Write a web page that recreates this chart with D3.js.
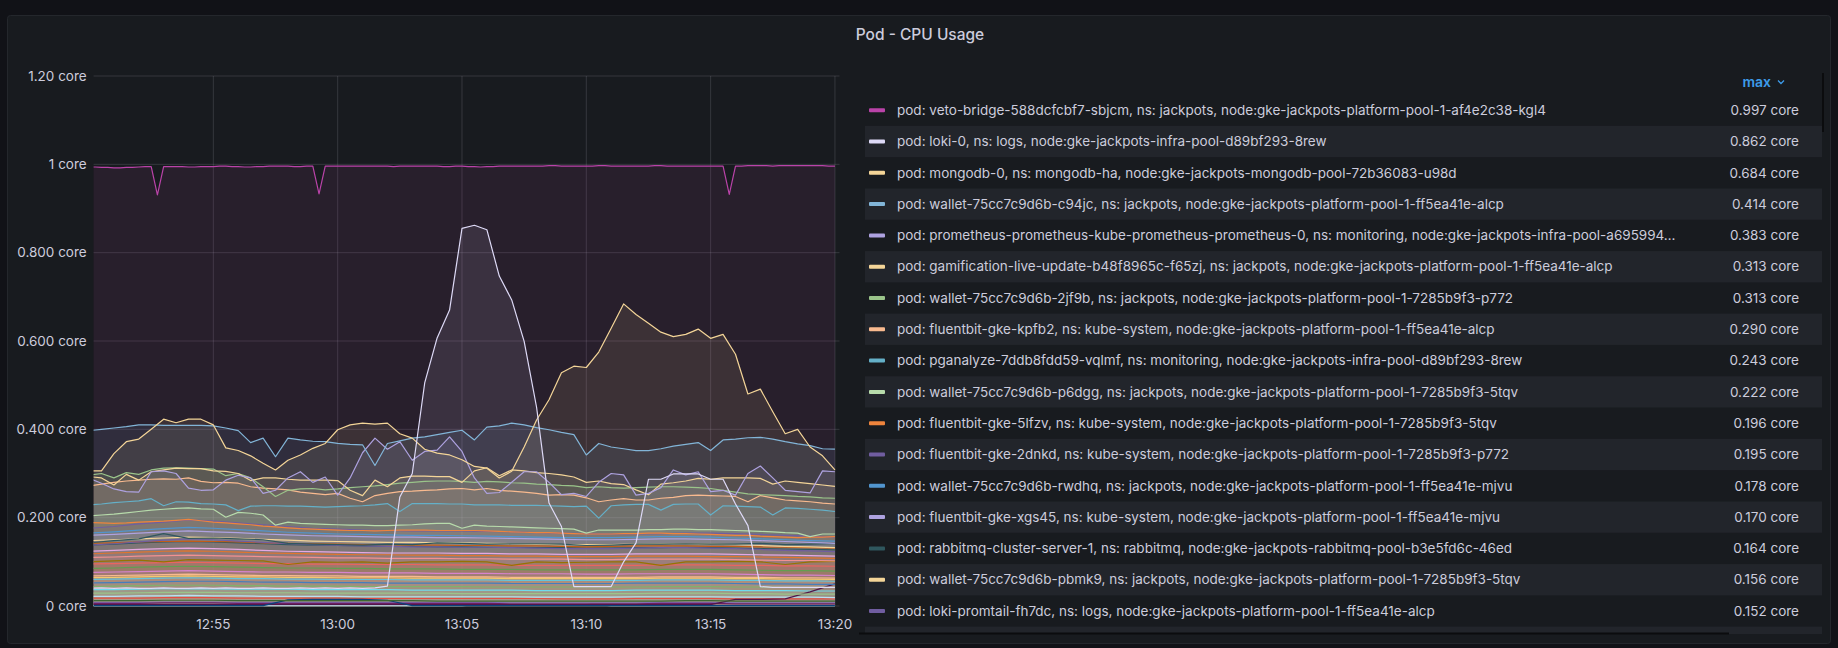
<!DOCTYPE html>
<html>
<head>
<meta charset="utf-8">
<script src="https://cdn.jsdelivr.net/npm/d3@7"></script>
<style>
  body { margin: 0; background: #111217; font-family: Inter, "Noto Sans", sans-serif; }
  svg { display: block; }
</style>
</head>
<body>
<div id="vis"></div>
<script>
// time range of the panel (last 30 min) and of the scraped data
var rangeStart = new Date(2024, 0, 1, 12, 50, 11),
    rangeEnd   = new Date(2024, 0, 1, 13, 20, 11),
    dataStart  = new Date(2024, 0, 1, 12, 50, 0),
    dataEnd    = new Date(2024, 0, 1, 13, 20, 0);

var yTickValues = [0, 0.2, 0.4, 0.6, 0.8, 1, 1.2];
var yTickLabels = ["0 core", "0.200 core", "0.400 core", "0.600 core", "0.800 core", "1 core", "1.20 core"];

////////// series values (core), 15s, 30s or 60s resolution //////////

var vetoBridge = [0.994,0.994,0.993,0.993,0.992,0.992,0.993,0.993,0.994,0.995,
  0.995,0.931,0.995,0.995,0.995,0.995,0.994,0.994,0.995,0.995,
  0.995,0.996,0.996,0.995,0.995,0.994,0.994,0.995,0.995,0.996,
  0.996,0.996,0.996,0.995,0.995,0.996,0.996,0.933,0.996,0.996,
  0.996,0.996,0.996,0.996,0.996,0.996,0.996,0.996,0.996,0.995,
  0.996,0.996,0.996,0.996,0.996,0.996,0.996,0.995,0.995,0.996,
  0.996,0.995,0.995,0.994,0.995,0.995,0.996,0.996,0.996,0.996,
  0.996,0.996,0.996,0.996,0.997,0.997,0.996,0.996,0.996,0.996,
  0.996,0.996,0.997,0.997,0.996,0.996,0.996,0.996,0.996,0.996,
  0.996,0.997,0.997,0.996,0.996,0.996,0.996,0.996,0.996,0.996,
  0.996,0.996,0.996,0.932,0.996,0.996,0.997,0.997,0.997,0.997,
  0.996,0.997,0.997,0.997,0.997,0.997,0.997,0.997,0.997,0.996,
  0.996];

var loki0 = [0.040,0.041,0.040,0.041,0.040,0.040,0.041,0.040,0.040,0.041,
  0.040,0.041,0.040,0.040,0.041,0.040,0.040,0.041,0.040,0.041,
  0.040,0.041,0.040,0.041,0.045,0.247,0.300,0.505,0.607,0.670,
  0.855,0.862,0.852,0.747,0.693,0.599,0.450,0.233,0.180,0.044,
  0.044,0.044,0.044,0.100,0.143,0.287,0.287,0.299,0.299,0.299,
  0.287,0.287,0.231,0.182,0.044,0.042,0.042,0.042,0.042,0.042,0.042];

var mongodb0 = [0.306,0.306,0.345,0.372,0.378,0.400,0.423,0.415,0.423,0.423,
  0.410,0.358,0.352,0.340,0.323,0.308,0.330,0.342,0.357,0.368,
  0.399,0.410,0.414,0.412,0.414,0.390,0.380,0.355,0.346,0.342,
  0.331,0.316,0.312,0.290,0.305,0.360,0.421,0.467,0.528,0.543,
  0.540,0.575,0.629,0.684,0.660,0.640,0.620,0.610,0.615,0.627,
  0.606,0.615,0.570,0.480,0.491,0.440,0.390,0.400,0.360,0.340,0.308];

var walletC94jc = [0.397,0.400,0.403,0.406,0.410,0.410,0.409,0.409,0.409,0.409,
  0.408,0.403,0.397,0.370,0.380,0.338,0.380,0.376,0.373,0.372,
  0.368,0.366,0.365,0.318,0.368,0.374,0.380,0.383,0.388,0.393,
  0.398,0.376,0.405,0.408,0.414,0.410,0.404,0.399,0.393,0.388,
  0.342,0.368,0.360,0.356,0.352,0.352,0.356,0.362,0.366,0.370,
  0.352,0.376,0.378,0.381,0.382,0.378,0.372,0.367,0.363,0.356,0.355];

var prometheus0 = [0.289,0.278,0.265,0.259,0.258,0.304,0.306,0.300,0.267,0.262,
  0.263,0.285,0.296,0.290,0.255,0.262,0.290,0.304,0.280,0.292,
  0.251,0.290,0.347,0.380,0.355,0.372,0.330,0.350,0.353,0.383,
  0.350,0.290,0.255,0.257,0.280,0.304,0.304,0.280,0.252,0.255,
  0.248,0.280,0.300,0.297,0.251,0.255,0.268,0.308,0.297,0.304,
  0.259,0.262,0.251,0.300,0.317,0.290,0.262,0.259,0.256,0.306,0.304];

var gamification = [0.293,0.290,0.274,0.298,0.285,0.304,0.308,0.312,0.311,0.311,
  0.306,0.305,0.300,0.284,0.290,0.290,0.287,0.285,0.285,0.285,
  0.284,0.262,0.250,0.285,0.270,0.290,0.294,0.294,0.293,0.293,
  0.280,0.306,0.313,0.295,0.308,0.306,0.302,0.300,0.297,0.292,
  0.280,0.283,0.277,0.275,0.263,0.252,0.276,0.279,0.283,0.289,
  0.287,0.290,0.290,0.290,0.289,0.276,0.283,0.280,0.277,0.274,0.271];

var wallet2jf9b = [0.296,0.300,0.290,0.302,0.298,0.308,0.312,0.313,0.312,0.311,
  0.310,0.295,0.300,0.290,0.270,0.248,0.262,0.265,0.266,0.263,
  0.265,0.268,0.270,0.272,0.275,0.278,0.280,0.282,0.283,0.283,
  0.282,0.280,0.282,0.281,0.279,0.278,0.276,0.275,0.273,0.272,
  0.268,0.270,0.268,0.267,0.268,0.269,0.270,0.270,0.269,0.268,
  0.266,0.262,0.258,0.254,0.252,0.251,0.250,0.248,0.247,0.245,0.244];

var fluentbitKpfb2 = [0.272,0.276,0.280,0.283,0.285,0.287,0.288,0.287,0.290,0.282,
  0.279,0.280,0.278,0.270,0.267,0.265,0.263,0.258,0.255,0.252,
  0.255,0.244,0.236,0.250,0.255,0.259,0.260,0.262,0.263,0.265,
  0.266,0.263,0.266,0.262,0.260,0.258,0.255,0.251,0.252,0.251,
  0.245,0.236,0.240,0.243,0.240,0.240,0.244,0.246,0.250,0.251,
  0.250,0.249,0.248,0.236,0.250,0.245,0.240,0.238,0.236,0.233,0.231];

var pganalyze = [0.229,0.231,0.234,0.236,0.238,0.243,0.227,0.236,0.235,0.232,
  0.231,0.229,0.216,0.226,0.227,0.227,0.226,0.226,0.225,0.224,
  0.225,0.226,0.227,0.229,0.232,0.214,0.232,0.232,0.232,0.231,
  0.231,0.229,0.229,0.229,0.228,0.228,0.228,0.227,0.226,0.225,
  0.226,0.199,0.227,0.229,0.230,0.230,0.217,0.230,0.231,0.231,
  0.206,0.227,0.226,0.225,0.224,0.206,0.222,0.221,0.219,0.217,0.214];

var walletP6dgg = [0.204,0.206,0.208,0.211,0.214,0.217,0.219,0.221,0.222,0.220,
  0.219,0.201,0.212,0.210,0.206,0.183,0.190,0.187,0.186,0.185,
  0.184,0.183,0.183,0.182,0.182,0.183,0.184,0.186,0.187,0.187,
  0.176,0.183,0.181,0.180,0.179,0.178,0.177,0.176,0.175,0.174,
  0.165,0.172,0.172,0.172,0.172,0.173,0.173,0.174,0.174,0.173,
  0.173,0.172,0.171,0.170,0.169,0.168,0.166,0.165,0.157,0.163,0.163];

var fluentbit5lfzv = [0.189,0.188,0.187,0.188,0.190,0.191,0.192,0.194,0.196,0.193,
  0.190,0.188,0.186,0.184,0.181,0.179,0.177,0.175,0.174,0.173,
  0.172,0.171,0.171,0.170,0.171,0.172,0.172,0.172,0.171,0.171,
  0.171,0.171,0.170,0.169,0.168,0.167,0.166,0.166,0.165,0.164,
  0.163,0.163,0.163,0.164,0.164,0.165,0.165,0.164,0.164,0.163,
  0.162,0.161,0.160,0.160,0.158,0.157,0.156,0.155,0.156,0.156,0.157];

// 60s resolution
var fluentbit2dnkd = [0.176,0.180,0.186,0.190,0.195,0.192,0.188,0.184,0.180,0.176,
  0.174,0.172,0.171,0.170,0.170,0.170,0.169,0.168,0.166,0.165,
  0.164,0.163,0.163,0.164,0.165,0.165,0.164,0.162,0.160,0.158,0.156];
var walletRwdhq = [0.165,0.168,0.172,0.175,0.178,0.176,0.173,0.170,0.167,0.165,
  0.163,0.162,0.161,0.160,0.160,0.159,0.158,0.157,0.156,0.155,
  0.155,0.155,0.156,0.157,0.157,0.156,0.154,0.152,0.150,0.148,0.147];
var fluentbitXgs45 = [0.160,0.162,0.165,0.168,0.170,0.168,0.166,0.163,0.161,0.159,
  0.158,0.157,0.156,0.156,0.155,0.155,0.154,0.153,0.152,0.151,
  0.150,0.150,0.151,0.152,0.152,0.151,0.150,0.148,0.146,0.144,0.142];
var rabbitmqServer1 = [0.143,0.148,0.152,0.164,0.153,0.154,0.152,0.150,0.142,0.140,
  0.139,0.138,0.140,0.139,0.143,0.142,0.140,0.141,0.141,0.140,
  0.137,0.138,0.140,0.140,0.141,0.140,0.140,0.142,0.139,0.140,0.142];
var walletPbmk9 = [0.148,0.150,0.152,0.154,0.156,0.155,0.153,0.151,0.149,0.147,
  0.146,0.145,0.144,0.144,0.143,0.143,0.142,0.141,0.140,0.139,
  0.139,0.139,0.140,0.141,0.141,0.140,0.139,0.137,0.135,0.134,0.132];
var lokiPromtail = [0.138,0.141,0.145,0.149,0.152,0.150,0.147,0.144,0.141,0.139,
  0.137,0.136,0.135,0.134,0.134,0.133,0.133,0.132,0.131,0.130,
  0.130,0.130,0.131,0.132,0.132,0.131,0.130,0.128,0.126,0.125,0.123];

// the rest of the pods (below the visible legend rows)
var other1 = [0.142,0.143,0.145,0.146,0.147,0.146,0.145,0.143,0.142,0.141,
  0.140,0.139,0.139,0.138,0.138,0.137,0.137,0.136,0.136,0.135,
  0.134,0.135,0.136,0.136,0.136,0.135,0.135,0.134,0.133,0.132,0.131];
var other2 = [0.138,0.140,0.143,0.145,0.146,0.145,0.143,0.141,0.139,0.138,
  0.137,0.136,0.135,0.135,0.134,0.134,0.133,0.133,0.132,0.132,
  0.131,0.131,0.132,0.132,0.133,0.132,0.131,0.130,0.129,0.128,0.127];
var other3 = [0.124,0.126,0.128,0.130,0.131,0.130,0.128,0.126,0.124,0.123,
  0.122,0.121,0.120,0.120,0.120,0.119,0.119,0.118,0.118,0.117,
  0.117,0.117,0.118,0.118,0.118,0.118,0.117,0.116,0.115,0.114,0.113];
var other4 = [0.118,0.120,0.122,0.124,0.125,0.124,0.122,0.120,0.119,0.118,
  0.117,0.116,0.116,0.115,0.115,0.114,0.114,0.113,0.113,0.112,
  0.112,0.112,0.113,0.113,0.113,0.112,0.112,0.111,0.110,0.109,0.108];
var other5 = [0.110,0.111,0.113,0.114,0.115,0.114,0.113,0.112,0.111,0.110,
  0.109,0.109,0.108,0.108,0.108,0.107,0.107,0.106,0.106,0.106,
  0.105,0.105,0.106,0.106,0.106,0.106,0.105,0.104,0.103,0.103,0.102];
var other6 = [0.100,0.102,0.104,0.100,0.105,0.104,0.103,0.102,0.094,0.100,
  0.099,0.100,0.097,0.100,0.100,0.101,0.100,0.092,0.100,0.098,
  0.099,0.100,0.100,0.092,0.100,0.100,0.101,0.100,0.094,0.100,0.101];
var other7 = [0.095,0.096,0.097,0.098,0.099,0.098,0.097,0.096,0.096,0.095,
  0.095,0.094,0.094,0.094,0.093,0.093,0.093,0.092,0.092,0.092,
  0.092,0.092,0.092,0.093,0.093,0.093,0.092,0.092,0.091,0.091,0.090];
var other8 = [0.085,0.086,0.088,0.089,0.090,0.089,0.088,0.087,0.086,0.086,
  0.085,0.085,0.084,0.084,0.084,0.083,0.083,0.083,0.082,0.082,
  0.082,0.082,0.082,0.083,0.083,0.083,0.082,0.081,0.080,0.080,0.079];
var other9 = [0.076,0.077,0.078,0.079,0.080,0.079,0.078,0.077,0.077,0.076,
  0.076,0.075,0.075,0.075,0.074,0.074,0.074,0.073,0.073,0.073,
  0.072,0.072,0.073,0.073,0.073,0.073,0.072,0.071,0.070,0.070,0.069];
var other10 = [0.060,0.061,0.062,0.063,0.064,0.063,0.062,0.062,0.061,0.061,
  0.060,0.060,0.060,0.059,0.059,0.059,0.059,0.058,0.058,0.058,
  0.058,0.058,0.058,0.059,0.059,0.059,0.058,0.058,0.057,0.057,0.056];
var other11 = [0.052,0.053,0.054,0.055,0.056,0.056,0.055,0.054,0.054,0.053,
  0.053,0.053,0.052,0.052,0.052,0.052,0.052,0.051,0.051,0.051,
  0.051,0.051,0.052,0.052,0.052,0.052,0.051,0.050,0.050,0.049,0.049];
var other12 = [0.044,0.045,0.046,0.047,0.047,0.047,0.046,0.046,0.045,0.045,
  0.045,0.044,0.044,0.044,0.044,0.044,0.043,0.043,0.043,0.043,
  0.043,0.043,0.043,0.044,0.044,0.044,0.043,0.043,0.042,0.042,0.042];
var other13 = [0.029,0.029,0.030,0.031,0.031,0.031,0.030,0.030,0.030,0.029,
  0.029,0.029,0.029,0.029,0.029,0.028,0.028,0.028,0.028,0.028,
  0.028,0.028,0.028,0.029,0.029,0.029,0.028,0.028,0.027,0.027,0.027];
var other14 = [0.012,0.012,0.012,0.013,0.013,0.013,0.012,0.012,0.012,0.012,
  0.012,0.012,0.012,0.012,0.011,0.011,0.011,0.011,0.011,0.011,
  0.011,0.011,0.011,0.011,0.012,0.012,0.011,0.011,0.011,0.011,0.011];
var other15 = [0.001,0.001,0.001,0.001,0.001,0.001,0.001,0.001,0.014,0.015,
  0.015,0.015,0.013,0.001,0.001,0.001,0.001,0.001,0.001,0.001,
  0.001,0.001,0.001,0.001,0.001,0.001,0.001,0.001,0.001,0.001,0.001];
var other16 = [0.003,0.003,0.003,0.003,0.003,0.003,0.003,0.003,0.003,0.003,
  0.003,0.003,0.003,0.003,0.003,0.003,0.003,0.003,0.003,0.003,
  0.003,0.003,0.003,0.003,0.003,0.003,0.015,0.015,0.016,0.032,0.050];
var other17 = [0.006,0.006,0.006,0.007,0.007,0.007,0.006,0.006,0.006,0.006,
  0.006,0.006,0.006,0.006,0.006,0.006,0.006,0.005,0.005,0.005,
  0.005,0.005,0.005,0.006,0.006,0.006,0.005,0.005,0.005,0.005,0.005];
var other18 = [0.001,0.001,0.001,0.001,0.001,0.001,0.001,0.001,0.001,0.001,
  0.001,0.001,0.001,0.001,0.001,0.001,0.004,0.004,0.004,0.004,
  0.004,0.001,0.001,0.001,0.001,0.001,0.001,0.001,0.001,0.001,0.001];
var other19 = [0.001,0.001,0.001,0.001,0.001,0.001,0.001,0.001,0.001,0.001,
  0.001,0.001,0.001,0.001,0.001,0.001,0.001,0.001,0.001,0.001,
  0.001,0.001,0.001,0.001,0.001,0.001,0.001,0.001,0.001,0.001,0.001];
var other20 = [0.068,0.069,0.070,0.071,0.072,0.071,0.070,0.069,0.069,0.068,
  0.068,0.067,0.067,0.067,0.066,0.066,0.066,0.065,0.065,0.065,
  0.065,0.065,0.065,0.066,0.066,0.066,0.065,0.065,0.064,0.064,0.063];
var other21 = [0.037,0.037,0.038,0.039,0.039,0.039,0.038,0.038,0.038,0.037,
  0.037,0.037,0.037,0.036,0.036,0.036,0.036,0.036,0.035,0.035,
  0.035,0.035,0.036,0.036,0.036,0.036,0.035,0.035,0.035,0.034,0.034];
var other22 = [0.022,0.022,0.023,0.023,0.024,0.023,0.023,0.022,0.022,0.022,
  0.022,0.021,0.021,0.021,0.021,0.021,0.021,0.021,0.020,0.020,
  0.020,0.020,0.021,0.021,0.021,0.021,0.020,0.020,0.020,0.020,0.019];
var other23 = [0.018,0.018,0.018,0.019,0.019,0.019,0.018,0.018,0.018,0.018,
  0.018,0.017,0.017,0.017,0.017,0.017,0.017,0.017,0.017,0.016,
  0.016,0.016,0.017,0.017,0.017,0.017,0.016,0.016,0.016,0.016,0.016];
var other24 = [0.008,0.008,0.008,0.009,0.009,0.009,0.008,0.008,0.008,0.008,
  0.008,0.008,0.008,0.008,0.008,0.008,0.008,0.007,0.007,0.007,
  0.007,0.007,0.007,0.008,0.008,0.008,0.007,0.007,0.007,0.007,0.007];
var other25 = [0.064,0.065,0.066,0.067,0.068,0.067,0.066,0.066,0.065,0.065,
  0.064,0.064,0.064,0.063,0.063,0.063,0.063,0.062,0.062,0.062,
  0.062,0.062,0.062,0.063,0.063,0.063,0.062,0.062,0.061,0.061,0.060];

var seriesLabels = [
  "pod: veto-bridge-588dcfcbf7-sbjcm, ns: jackpots, node:gke-jackpots-platform-pool-1-af4e2c38-kgl4",
  "pod: loki-0, ns: logs, node:gke-jackpots-infra-pool-d89bf293-8rew",
  "pod: mongodb-0, ns: mongodb-ha, node:gke-jackpots-mongodb-pool-72b36083-u98d",
  "pod: wallet-75cc7c9d6b-c94jc, ns: jackpots, node:gke-jackpots-platform-pool-1-ff5ea41e-alcp",
  "pod: prometheus-prometheus-kube-prometheus-prometheus-0, ns: monitoring, node:gke-jackpots-infra-pool-a695994\u2026",
  "pod: gamification-live-update-b48f8965c-f65zj, ns: jackpots, node:gke-jackpots-platform-pool-1-ff5ea41e-alcp",
  "pod: wallet-75cc7c9d6b-2jf9b, ns: jackpots, node:gke-jackpots-platform-pool-1-7285b9f3-p772",
  "pod: fluentbit-gke-kpfb2, ns: kube-system, node:gke-jackpots-platform-pool-1-ff5ea41e-alcp",
  "pod: pganalyze-7ddb8fdd59-vqlmf, ns: monitoring, node:gke-jackpots-infra-pool-d89bf293-8rew",
  "pod: wallet-75cc7c9d6b-p6dgg, ns: jackpots, node:gke-jackpots-platform-pool-1-7285b9f3-5tqv",
  "pod: fluentbit-gke-5lfzv, ns: kube-system, node:gke-jackpots-platform-pool-1-7285b9f3-5tqv",
  "pod: fluentbit-gke-2dnkd, ns: kube-system, node:gke-jackpots-platform-pool-1-7285b9f3-p772",
  "pod: wallet-75cc7c9d6b-rwdhq, ns: jackpots, node:gke-jackpots-platform-pool-1-ff5ea41e-mjvu",
  "pod: fluentbit-gke-xgs45, ns: kube-system, node:gke-jackpots-platform-pool-1-ff5ea41e-mjvu",
  "pod: rabbitmq-cluster-server-1, ns: rabbitmq, node:gke-jackpots-rabbitmq-pool-b3e5fd6c-46ed",
  "pod: wallet-75cc7c9d6b-pbmk9, ns: jackpots, node:gke-jackpots-platform-pool-1-7285b9f3-5tqv",
  "pod: loki-promtail-fh7dc, ns: logs, node:gke-jackpots-platform-pool-1-ff5ea41e-alcp"
];

var seriesColors = ["#BA43A9", "#DEDAF7", "#F4D598", "#82B5D8", "#AEA2E0", "#F4D598", "#9AC48A",
  "#F9BA8F", "#64B0C8", "#B7DBAB", "#EF843C", "#705DA0", "#5195CE", "#AEA2E0", "#2F575E",
  "#F4D598", "#705DA0",
  "#C15C17", "#2F575E", "#E5A8E2", "#E0752D", "#F29191", "#967302", "#EA6460", "#629E51",
  "#D683CE", "#65C5DB", "#447EBC", "#7EB26D", "#9AC48A", "#3F6833", "#0A437C", "#511749",
  "#6D1F62", "#CFFAFF", "#FCEACA",
  "#F9BA8F", "#70DBED", "#BADFF4", "#E24D42", "#806EB7", "#F2C96D"];

var seriesValues = [vetoBridge, loki0, mongodb0, walletC94jc, prometheus0, gamification, wallet2jf9b,
  fluentbitKpfb2, pganalyze, walletP6dgg, fluentbit5lfzv, fluentbit2dnkd, walletRwdhq, fluentbitXgs45,
  rabbitmqServer1, walletPbmk9, lokiPromtail,
  other1, other2, other3, other4, other5, other6, other7, other8, other9, other10, other11,
  other12, other13, other14, other15, other16, other17, other18, other19,
  other20, other21, other22, other23, other24, other25];

var series = seriesValues.map(function(vals, k) {
  var step = (dataEnd - dataStart) / (vals.length - 1);
  return {
    label: seriesLabels[k] || "",
    color: seriesColors[k],
    points: vals.map(function(v, i) { return {t: new Date(+dataStart + i * step), v: v}; }),
    max: d3.max(vals)
  };
});

////////// layout //////////

var W = 1838, H = 648;
var plot = {left: 93.6, right: 839.5, top: 76, bottom: 606};

var svg = d3.select("#vis")
    .append("svg")
    .attr("width", W)
    .attr("height", H)
    .style("font-family", "Inter, 'Noto Sans', sans-serif");

svg.append("rect")
    .attr("x", 7.5).attr("y", 15.5)
    .attr("width", 1823).attr("height", 628)
    .attr("rx", 3)
    .attr("fill", "#181b1f")
    .attr("stroke", "#24272c");

svg.append("text")
    .attr("x", 920).attr("y", 35)
    .attr("dy", "0.35em")
    .attr("text-anchor", "middle")
    .attr("fill", "#ccccdc")
    .attr("font-size", 15.5)
    .attr("font-weight", 500)
    .text("Pod - CPU Usage");

var x = d3.scaleTime()
    .domain([rangeStart, rangeEnd])
    .range([plot.left, plot.right]);

var y = d3.scaleLinear()
    .domain([0, 1.2])
    .range([plot.bottom, plot.top]);

////////// grid + axes //////////

var grid = svg.append("g").attr("class", "grid");

grid.selectAll("line.h")
    .data(yTickValues)
    .enter().append("line")
    .attr("class", "h")
    .attr("x1", plot.left).attr("x2", plot.right)
    .attr("y1", function(d) { return y(d); })
    .attr("y2", function(d) { return y(d); })
    .attr("stroke", "rgba(204,204,220,0.16)");

var xTicks = x.ticks(d3.timeMinute.every(5));

grid.selectAll("line.v")
    .data(xTicks)
    .enter().append("line")
    .attr("class", "v")
    .attr("x1", function(d) { return x(d); })
    .attr("x2", function(d) { return x(d); })
    .attr("y1", plot.top).attr("y2", plot.bottom)
    .attr("stroke", "rgba(204,204,220,0.16)");

svg.append("g")
  .selectAll("text")
    .data(yTickValues)
    .enter().append("text")
    .attr("x", 86.7)
    .attr("y", function(d) { return y(d); })
    .attr("dy", "0.35em")
    .attr("text-anchor", "end")
    .attr("fill", "#ccccdc")
    .attr("font-size", 13.5)
    .text(function(d, i) { return yTickLabels[i]; });

svg.append("g")
  .selectAll("text")
    .data(xTicks)
    .enter().append("text")
    .attr("x", function(d) { return x(d); })
    .attr("y", 624)
    .attr("dy", "0.35em")
    .attr("text-anchor", "middle")
    .attr("fill", "#ccccdc")
    .attr("font-size", 13.5)
    .text(d3.timeFormat("%H:%M"));

////////// series //////////

svg.append("clipPath").attr("id", "plotClip")
  .append("rect")
    .attr("x", plot.left).attr("y", plot.top - 2)
    .attr("width", plot.right - plot.left)
    .attr("height", plot.bottom - plot.top + 3);

var area = d3.area()
    .x(function(d) { return x(d.t); })
    .y0(y(0))
    .y1(function(d) { return y(d.v); });

var line = d3.line()
    .x(function(d) { return x(d.t); })
    .y(function(d) { return y(d.v); });

var seriesG = svg.append("g").attr("clip-path", "url(#plotClip)");

seriesG.selectAll("path.fill")
    .data(series)
    .enter().append("path")
    .attr("class", "fill")
    .attr("d", function(s) { return area(s.points); })
    .attr("fill", function(s) { return s.color; })
    .attr("fill-opacity", 0.1);

// lowest series first so the big ones end up on top
seriesG.selectAll("path.line")
    .data(series.slice().reverse())
    .enter().append("path")
    .attr("class", "line")
    .attr("d", function(s) { return line(s.points); })
    .attr("fill", "none")
    .attr("stroke", function(s) { return s.color; })
    .attr("stroke-width", 1.2)
    .attr("stroke-linejoin", "round");

////////// legend //////////

var fmt = d3.format(".3f");
var sorted = series.slice().sort(function(a, b) { return b.max - a.max; });

svg.append("text")
    .attr("x", 1771).attr("y", 82.5)
    .attr("dy", "0.35em")
    .attr("text-anchor", "end")
    .attr("fill", "#3d9be9")
    .attr("font-size", 14)
    .attr("font-weight", 600)
    .text("max");

svg.append("path")
    .attr("d", "M1778,80.5 L1781,83.5 L1784,80.5")
    .attr("fill", "none")
    .attr("stroke", "#3d9be9")
    .attr("stroke-width", 1.3);

svg.append("clipPath").attr("id", "legendClip")
  .append("rect")
    .attr("x", 860).attr("y", 94)
    .attr("width", 965).attr("height", 540);

var legend = svg.append("g").attr("clip-path", "url(#legendClip)");

var rowH = 31.3, row0 = 110.2, legendBottom = 634;

var rows = legend.selectAll("g.row")
    .data(sorted)
    .enter().append("g")
    .attr("class", "row")
    .attr("transform", function(d, k) { return "translate(0," + (row0 + k * rowH) + ")"; });

rows.filter(function(d, k) { return k % 2 == 1; })
  .append("rect")
    .attr("x", 865).attr("y", -rowH / 2)
    .attr("width", 957).attr("height", rowH)
    .attr("fill", "#22252b");

// only rows that are scrolled into view get their swatch and texts
var shown = rows.filter(function(d, k) { return row0 + k * rowH + 8 < legendBottom; });

shown.append("rect")
    .attr("x", 869).attr("y", -2)
    .attr("width", 16).attr("height", 4)
    .attr("rx", 1)
    .attr("fill", function(d) { return d.color; });

shown.append("text")
    .attr("x", 897)
    .attr("dy", "0.35em")
    .attr("fill", "#ccccdc")
    .attr("font-size", 13.5)
    .text(function(d) { return d.label; });

shown.append("text")
    .attr("x", 1799)
    .attr("dy", "0.35em")
    .attr("text-anchor", "end")
    .attr("fill", "#ccccdc")
    .attr("font-size", 13.5)
    .text(function(d) { return fmt(d.max) + " core"; });

// scrollbars of the legend box
svg.append("rect")
    .attr("x", 1822).attr("y", 73)
    .attr("width", 2).attr("height", 59)
    .attr("fill", "#0b0c0e");

svg.append("rect")
    .attr("x", 859).attr("y", 632.5)
    .attr("width", 870).attr("height", 2)
    .attr("fill", "#0b0c0e");
</script>
</body>
</html>
